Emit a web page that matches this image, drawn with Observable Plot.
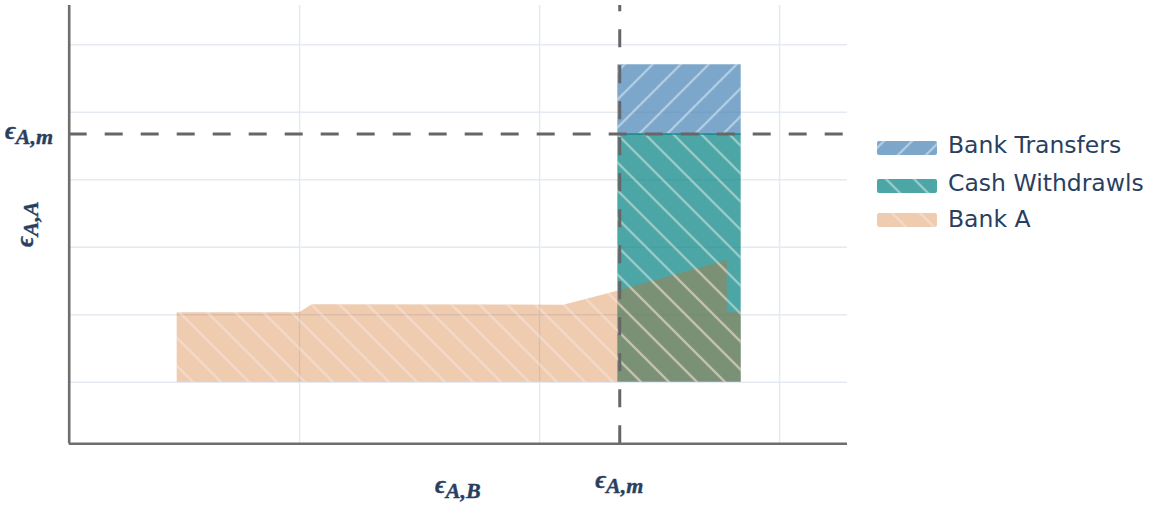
<!DOCTYPE html>
<html>
<head>
<meta charset="utf-8">
<script src="https://cdn.jsdelivr.net/npm/d3@7"></script>
<script src="https://cdn.jsdelivr.net/npm/@observablehq/plot@0.6"></script>
<style>
  body { margin: 0; background: #fff; }
  #chart { position: relative; width: 1154px; height: 507px; }
</style>
</head>
<body>
<div id="chart"></div>
<script>
// ---------------- data ----------------
const xGrid = [1, 2, 3];
const yGrid = [1, 2, 3, 4, 5, 6];
const xDomain = [0.04, 3.283];
const yDomain = [0.087, 6.58];
const epsAmX = 2.334;          // vertical threshold ϵ_{A,m}
const epsAmY = 4.677;          // horizontal threshold ϵ_{A,m}
const barX = [2.326, 2.84];
const cashY = [1.0, 4.677];
const transferY = [4.677, 5.702];
const bankAX   = [0.49, 1.0, 1.053, 2.101, 2.325, 2.782, 2.782, 2.84];
const bankATop = [2.03, 2.03, 2.147, 2.14, 2.348, 2.803, 2.03, 2.03];
const bankABase = 1.0;
const seriesNames = ["Bank Transfers", "Cash Withdrawls", "Bank A"];
const xTitleSub = "A,B";
const yTitleSub = "A,A";
const thresholdSub = "A,m";
const epsGlyph = "ϵ";

// ---------------- styles ----------------
const colors = { transfers: "rgb(70,130,180)", cash: "rgb(0,128,128)", bankA: "rgb(210,105,30)" };
const opac = { transfers: 0.7, cash: 0.7, bankA: 0.35 };
const textColor = "#2a3f5f";
const mathFont = "'Liberation Serif','DejaVu Serif',serif";

// patterns in a hidden svg
const defsSvg = d3.select("body").append("svg")
  .attr("width", 0).attr("height", 0).style("position", "absolute");
const defs = defsSvg.append("defs");
function makePattern(id, dir, ox, op) {
  const p = defs.append("pattern").attr("id", id)
    .attr("patternUnits", "userSpaceOnUse")
    .attr("x", ox).attr("y", 0).attr("width", 28).attr("height", 28);
  const d = dir === "/"
    ? "M0,28 L28,0 M-7,7 L7,-7 M21,35 L35,21"
    : "M0,0 L28,28 M-7,21 L7,35 M21,-7 L35,7";
  p.append("path").attr("d", d).attr("stroke", "#fff")
    .attr("stroke-opacity", op).attr("stroke-width", 2.4).attr("fill", "none");
}
makePattern("hatchT", "/", 17, 0.4);
makePattern("hatchC", "\\", 7, 0.4);
makePattern("hatchA", "\\", 7, 0.28);

const bankA = bankAX.map((x, i) => ({ x, y1: bankABase, y2: bankATop[i] }));
const cashRect = [{ x1: barX[0], x2: barX[1], y1: cashY[0], y2: cashY[1] }];
const transRect = [{ x1: barX[0], x2: barX[1], y1: transferY[0], y2: transferY[1] }];

const plot = Plot.plot({
  width: 1154,
  height: 507,
  marginLeft: 68.7,
  marginRight: 307,
  marginTop: 5,
  marginBottom: 63.7,
  x: { domain: xDomain, axis: null },
  y: { domain: yDomain, axis: null },
  style: { background: "#fff" },
  marks: [
    Plot.gridX(xGrid, { stroke: "#e4e9f2", strokeOpacity: 1, strokeWidth: 1.5 }),
    Plot.gridY(yGrid, { stroke: "#e4e9f2", strokeOpacity: 1, strokeWidth: 1.5 }),
    Plot.rect(transRect, { x1: "x1", x2: "x2", y1: "y1", y2: "y2", fill: colors.transfers, fillOpacity: opac.transfers }),
    Plot.rect(transRect, { x1: "x1", x2: "x2", y1: "y1", y2: "y2", fill: "url(#hatchT)" }),
    Plot.rect(cashRect, { x1: "x1", x2: "x2", y1: "y1", y2: "y2", fill: colors.cash, fillOpacity: opac.cash }),
    Plot.rect(cashRect, { x1: "x1", x2: "x2", y1: "y1", y2: "y2", fill: "url(#hatchC)" }),
    Plot.ruleY([epsAmY], { x1: barX[0], x2: barX[1], stroke: colors.cash, strokeOpacity: 0.6, strokeWidth: 2 }),
    Plot.areaY(bankA, { x: "x", y1: "y1", y2: "y2", fill: colors.bankA, fillOpacity: opac.bankA }),
    Plot.areaY(bankA, { x: "x", y1: "y1", y2: "y2", fill: "url(#hatchA)" }),
    Plot.ruleY([epsAmY], { x1: xDomain[0], x2: xDomain[1], stroke: "#666", strokeWidth: 3, strokeDasharray: "18,18" }),
    Plot.ruleX([epsAmX], { y1: yDomain[0], y2: yDomain[1], stroke: "#666", strokeWidth: 3, strokeDasharray: "18,18" }),
    Plot.ruleX([xDomain[0]], { stroke: "#6e6e6e", strokeWidth: 2.6 }),
    Plot.ruleY([yDomain[0]], { stroke: "#6e6e6e", strokeWidth: 2.6 })
  ]
});
document.getElementById("chart").appendChild(plot);

const svg = d3.select(plot);
const sx = plot.scale("x"), sy = plot.scale("y");

function mathLabel(x, y, sub, anchor, rotate) {
  const t = svg.append("text")
    .attr("transform", `translate(${x},${y}) rotate(${rotate})`)
    .attr("text-anchor", anchor)
    .attr("fill", textColor)
    .attr("stroke", textColor)
    .attr("stroke-width", 0.4)
    .attr("font-family", mathFont)
    .attr("font-weight", "bold")
    .attr("font-style", "italic");
  t.append("tspan").attr("font-size", 25).text(epsGlyph);
  t.append("tspan").attr("font-size", 22).attr("dy", 5).text(sub);
}
const plotCx = (sx.range[0] + sx.range[1]) / 2;
const plotCy = (sy.range[0] + sy.range[1]) / 2;
mathLabel(plotCx, 493, xTitleSub, "middle", 0);
mathLabel(sx.apply(epsAmX), 488, thresholdSub, "middle", 0);
mathLabel(53, sy.apply(epsAmY) + 5.5, thresholdSub, "end", 0);
mathLabel(33, plotCy, yTitleSub, "middle", -90);

// legend
const legendItems = [
  { name: seriesNames[0], color: colors.transfers, op: opac.transfers, pat: "hatchT", top: 141, base: 153 },
  { name: seriesNames[1], color: colors.cash, op: opac.cash, pat: "hatchC", top: 179, base: 191 },
  { name: seriesNames[2], color: colors.bankA, op: opac.bankA, pat: "hatchA", top: 213, base: 227 }
];
const lg = svg.append("g").attr("text-anchor", "start");
legendItems.forEach(d => {
  lg.append("rect").attr("x", 877).attr("y", d.top).attr("width", 60).attr("height", 14).attr("rx", 2)
    .attr("fill", d.color).attr("fill-opacity", d.op);
  lg.append("rect").attr("x", 877).attr("y", d.top).attr("width", 60).attr("height", 14).attr("rx", 2)
    .attr("fill", `url(#${d.pat})`);
  lg.append("text").attr("x", 948).attr("y", d.base).attr("text-anchor", "start")
    .attr("font-family", "'DejaVu Sans', Verdana, sans-serif").attr("font-size", 23.5)
    .attr("fill", textColor).text(d.name);
});
</script>
</body>
</html>
